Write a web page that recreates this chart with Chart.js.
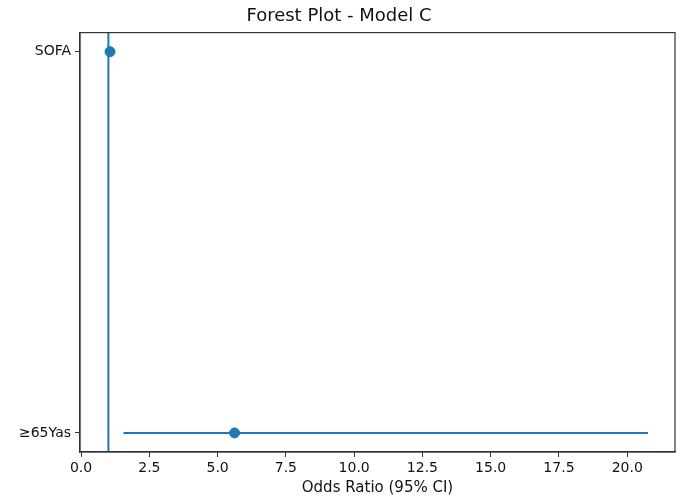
<!DOCTYPE html>
<html>
<head>
<meta charset="utf-8">
<script src="https://cdn.jsdelivr.net/npm/chart.js@4"></script>
<style>
html,body{margin:0;padding:0;background:#fff;}
#wrap{width:681px;height:501px;}
</style>
</head>
<body>
<div id="wrap"><canvas id="c" width="681" height="501"></canvas></div>
<script>
const labels = ['SOFA', '≥65Yas'];
const oddsRatios = [1.06, 5.62];
const ciLower = [1.02, 1.55];
const ciUpper = [1.10, 20.76];
const refValue = 1;
const xTicks = [0, 2.5, 5, 7.5, 10, 12.5, 15, 17.5, 20];

const blue = '#1f77b4';
const axisColor = '#333333';
const font = 'DejaVu Sans';
const yPos = labels.map((_, i) => labels.length - 1 - i);

const datasets = [];
labels.forEach((l, i) => {
  datasets.push({
    type: 'line',
    data: [{x: ciLower[i], y: yPos[i]}, {x: ciUpper[i], y: yPos[i]}],
    borderColor: blue, borderWidth: 2, pointRadius: 0, fill: false, order: 2
  });
});
datasets.push({
  type: 'scatter',
  data: labels.map((l, i) => ({x: oddsRatios[i], y: yPos[i]})),
  backgroundColor: blue, borderColor: blue, pointRadius: 5, order: 1
});

const frame = {
  id: 'frame',
  beforeDatasetsDraw(chart) {
    const {ctx, chartArea: a, scales} = chart;
    const x = scales.x.getPixelForValue(refValue);
    ctx.save();
    ctx.strokeStyle = blue; ctx.lineWidth = 2;
    ctx.beginPath(); ctx.moveTo(x, a.top); ctx.lineTo(x, a.bottom); ctx.stroke();
    ctx.restore();
  },
  afterDraw(chart) {
    const {ctx, chartArea: a} = chart;
    ctx.save();
    ctx.strokeStyle = axisColor; ctx.lineWidth = 1.2;
    ctx.strokeRect(a.left, a.top, a.right - a.left, a.bottom - a.top);
    ctx.restore();
  }
};

new Chart(document.getElementById('c'), {
  type: 'scatter',
  data: {datasets},
  plugins: [frame],
  options: {
    responsive: false,
    animation: false,
    layout: {padding: {left: 0, right: 3, top: 0, bottom: 0}},
    plugins: {
      legend: {display: false},
      tooltip: {enabled: false},
      title: {
        display: true, text: 'Forest Plot - Model C', color: '#111',
        font: {family: font, size: 18, weight: 'normal'},
        padding: {top: 6, bottom: 5}
      }
    },
    scales: {
      x: {
        type: 'linear', min: -0.04, max: 21.75,
        afterBuildTicks: s => { s.ticks = xTicks.map(v => ({value: v})); },
        afterFit: s => { s.height = 49; },
        ticks: {
          color: '#111', font: {family: font, size: 14}, padding: 3,
          maxRotation: 0, autoSkip: false,
          callback: v => Number(v).toFixed(1)
        },
        grid: {drawOnChartArea: false, drawTicks: true, tickLength: 5, color: axisColor},
        border: {display: true, color: axisColor, width: 1.2},
        title: {
          display: true, text: 'Odds Ratio (95% CI)', color: '#111',
          font: {family: font, size: 15}, padding: {top: 2, bottom: 4}
        }
      },
      y: {
        type: 'linear', min: -0.05, max: 1.05,
        afterBuildTicks: s => { s.ticks = yPos.map(v => ({value: v})); },
        afterFit: s => { s.width = 80; },
        ticks: {
          color: '#111', font: {family: font, size: 14}, padding: 4, autoSkip: false,
          callback: v => labels[labels.length - 1 - v]
        },
        grid: {drawOnChartArea: false, drawTicks: true, tickLength: 5, color: axisColor},
        border: {display: true, color: axisColor, width: 1.2}
      }
    }
  }
});
</script>
</body>
</html>
